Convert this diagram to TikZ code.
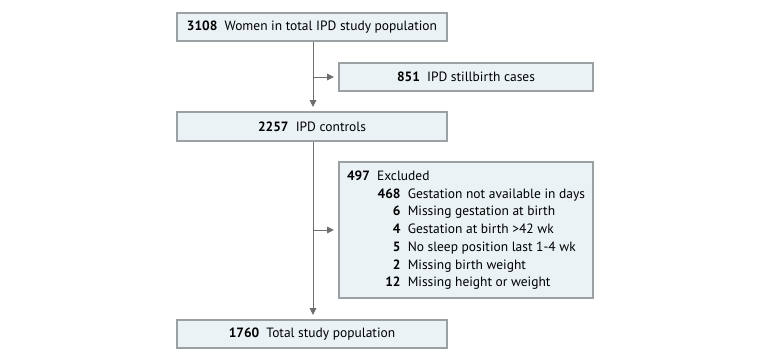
\documentclass[tikz,border=0pt]{standalone}
\usepackage{fontspec}
\setmainfont{PT Sans}
\usetikzlibrary{arrows.meta}
\definecolor{boxfill}{RGB}{234,242,245}
\definecolor{boxline}{RGB}{155,160,162}
\definecolor{arrowgray}{RGB}{110,110,110}
\tikzset{
  flowbox/.style={draw=boxline, fill=boxfill, line width=0.8pt, inner sep=0pt,
    font=\fontsize{10.1pt}{13.3pt}\selectfont},
  flowarrow/.style={draw=arrowgray, line width=0.7pt,
    -{Triangle[length=5pt,width=5pt]}, shorten >=3.5pt},
}
\begin{document}
\begin{tikzpicture}[x=0.75pt,y=0.75pt,yscale=-1,xscale=1]
\path[use as bounding box] (0,0) rectangle (780,362);

%Shape: Rectangle [total]
\node [flowbox, minimum width=202.5pt, minimum height=21pt] (women) at (312,27) {\textbf{3108}\ \ Women in total IPD study population};
%Shape: Rectangle [stillbirth]
\node [flowbox, minimum width=190.5pt, minimum height=21pt] (still) at (466,77) {\textbf{851}\ \ IPD stillbirth cases};
%Shape: Rectangle [controls]
\node [flowbox, minimum width=202.5pt, minimum height=21.75pt] (controls) at (312,126.5) {\textbf{2257}\ \ IPD controls};
%Shape: Rectangle [excluded]
\node [flowbox, minimum width=190.5pt, minimum height=102pt] (excl) at (466,230) {%
\begin{tabular}{@{\hspace{23pt}}r@{\ \ }l@{}}
\multicolumn{2}{@{}l@{}}{\textbf{497}\ \ Excluded}\\
\textbf{468} & Gestation not available in days\\
\textbf{6} & Missing gestation at birth\\
\textbf{4} & Gestation at birth >42 wk\\
\textbf{5} & No sleep position last 1-4 wk\\
\textbf{2} & Missing birth weight\\
\textbf{12} & Missing height or weight
\end{tabular}};
%Shape: Rectangle [study]
\node [flowbox, minimum width=202.5pt, minimum height=21pt] (study) at (312,334) {\textbf{1760}\ \ Total study population};

% branch points
\coordinate (b1) at (313,77);
\coordinate (b2) at (313,230);

%Straight Lines
\draw [flowarrow] (women.south -| b1) -- (controls.north -| b1);
\draw [flowarrow] (b1) -- (still.west);
\draw [flowarrow] (controls.south -| b1) -- (study.north -| b1);
\draw [flowarrow] (b2) -- (excl.west);

\end{tikzpicture}
\end{document}
